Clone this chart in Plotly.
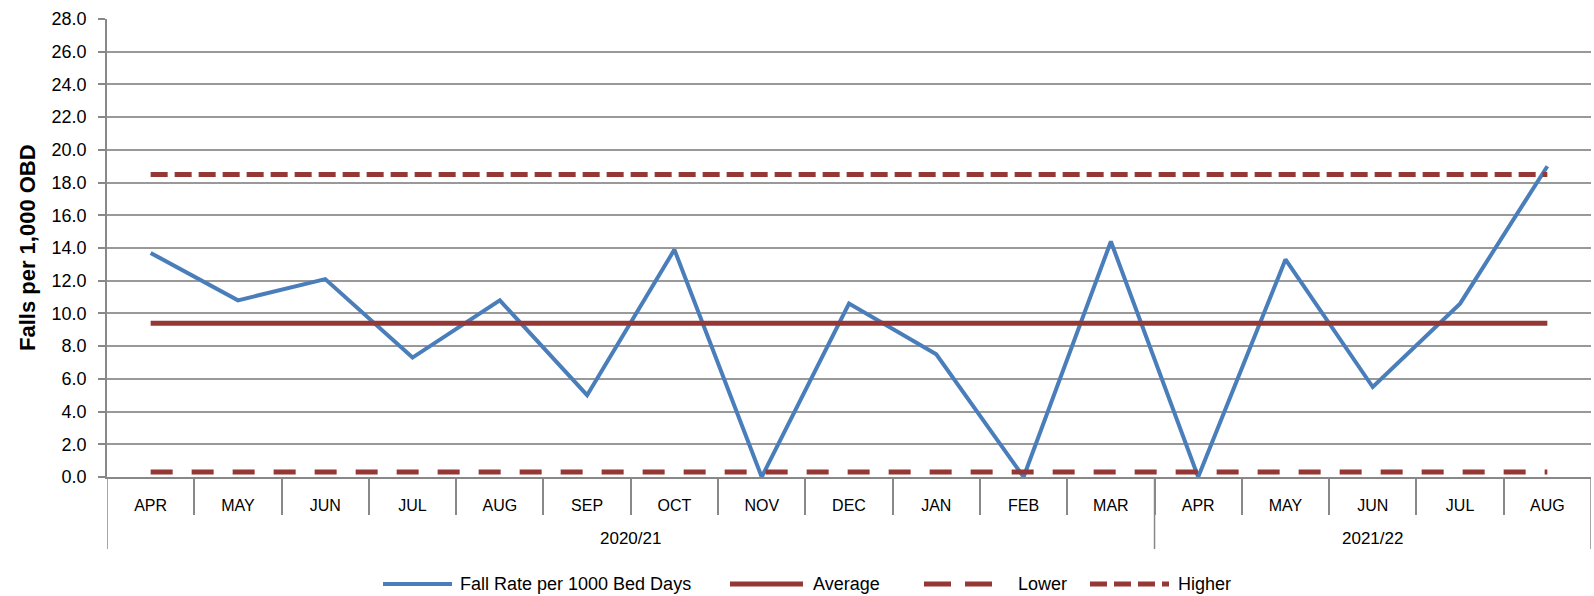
import plotly.graph_objects as go

# Monthly fall rate data (per 1,000 occupied bed days)
years = ["2020/21"] * 12 + ["2021/22"] * 5
months = ["APR", "MAY", "JUN", "JUL", "AUG", "SEP", "OCT", "NOV", "DEC", "JAN", "FEB", "MAR",
          "APR", "MAY", "JUN", "JUL", "AUG"]
fall_rate = [13.7, 10.8, 12.1, 7.3, 10.8, 5.0, 13.9, 0.0, 10.6, 7.5, 0.0, 14.4,
             0.0, 13.3, 5.5, 10.6, 19.0]
average = [9.4] * 17
lower = [0.3] * 17
higher = [18.5] * 17
y_ticks = [0, 2, 4, 6, 8, 10, 12, 14, 16, 18, 20, 22, 24, 26, 28]

RED = "#953735"
BLUE = "#4A7EBB"
AXIS_GREY = "#888888"
FONT = "Liberation Sans, Arial, sans-serif"

W, H = 1594, 596
L, R, T, B = 107, 3, 19, 119
plot_w = W - L - R
plot_h = H - T - B


def px_x(px):
    """Pixel x -> paper fraction of the plot area."""
    return (px - L) / plot_w


def px_y(py):
    """Pixel y -> paper fraction of the plot area."""
    return (H - B - py) / plot_h


idx = list(range(len(months)))

series = [
    ("Fall Rate per 1000 Bed Days", fall_rate, dict(color=BLUE, width=4)),
    ("Average", average, dict(color=RED, width=5)),
    ("Lower", lower, dict(color=RED, width=5, dash="22px,19px")),
    ("Higher", higher, dict(color=RED, width=5, dash="17px,7px")),
]

fig = go.Figure()
for name, vals, line in series:
    fig.add_trace(go.Scatter(x=idx, y=vals, mode="lines", name=name, line=line,
                             showlegend=False))

shapes = []
annotations = []

# Year group dividers and year labels
bounds = [-0.5] + [i + 0.5 for i in range(len(years) - 1) if years[i] != years[i + 1]] + [len(years) - 0.5]
for xb in bounds:
    shapes.append(dict(type="line", xref="x", yref="paper", x0=xb, x1=xb,
                       y0=0, y1=px_y(549), line=dict(color=AXIS_GREY, width=1.5)))
group_names = []
for y in years:
    if y not in group_names:
        group_names.append(y)
for g in group_names:
    members = [i for i, y in enumerate(years) if y == g]
    annotations.append(dict(text=g, xref="x", yref="paper",
                            x=(members[0] + members[-1]) / 2, y=px_y(538),
                            xanchor="center", yanchor="middle", showarrow=False,
                            font=dict(size=17, family=FONT, color="black")))

# Y-axis title
annotations.append(dict(text="<b>Falls per 1,000 OBD</b>", xref="paper", yref="paper",
                        x=px_x(27), y=0.5, textangle=-90, showarrow=False,
                        xanchor="center", yanchor="middle",
                        font=dict(size=22, family=FONT, color="black")))

# Legend row beneath the chart
legend_y = px_y(584)
legend_pos = [(383, 452, 458), (730, 803, 811), (924, 999, 1016), (1090, 1169, 1176)]
for (name, _, line), (s0, s1, tx) in zip(series, legend_pos):
    sample_line = dict(line)
    if name == "Lower":
        sample_line["dash"] = "27px,14px"
    shapes.append(dict(type="line", xref="paper", yref="paper",
                       x0=px_x(s0), x1=px_x(s1), y0=legend_y, y1=legend_y, line=sample_line))
    annotations.append(dict(text=name, xref="paper", yref="paper", x=px_x(tx), y=legend_y,
                            xanchor="left", yanchor="middle", showarrow=False,
                            font=dict(size=18, family=FONT, color="black")))

fig.update_layout(
    width=W, height=H,
    margin=dict(l=L, r=R, t=T, b=B),
    plot_bgcolor="white", paper_bgcolor="white",
    font=dict(family=FONT, color="black"),
    showlegend=False,
    shapes=shapes,
    annotations=annotations,
    xaxis=dict(
        range=[-0.5, len(months) - 0.5],
        tickmode="array", tickvals=idx, ticktext=months,
        ticks="", ticklabelstandoff=13,
        tickfont=dict(size=16),
        showline=True, linecolor=AXIS_GREY, linewidth=1.5,
        showgrid=False, zeroline=False,
        minor=dict(tickmode="array", tickvals=[i - 0.5 for i in idx[1:]],
                   ticks="outside", ticklen=36, tickcolor=AXIS_GREY, tickwidth=1.5,
                   showgrid=False),
    ),
    yaxis=dict(
        range=[0, 28], tickvals=y_ticks, tickformat=".1f",
        showgrid=True, gridcolor="#999999", gridwidth=1.5,
        showline=True, linecolor=AXIS_GREY, linewidth=1.5,
        ticks="outside", ticklen=7, tickcolor=AXIS_GREY, tickwidth=1.5,
        ticklabelstandoff=8,
        tickfont=dict(size=18),
        zeroline=False,
    ),
)

fig.write_html("out.html")
